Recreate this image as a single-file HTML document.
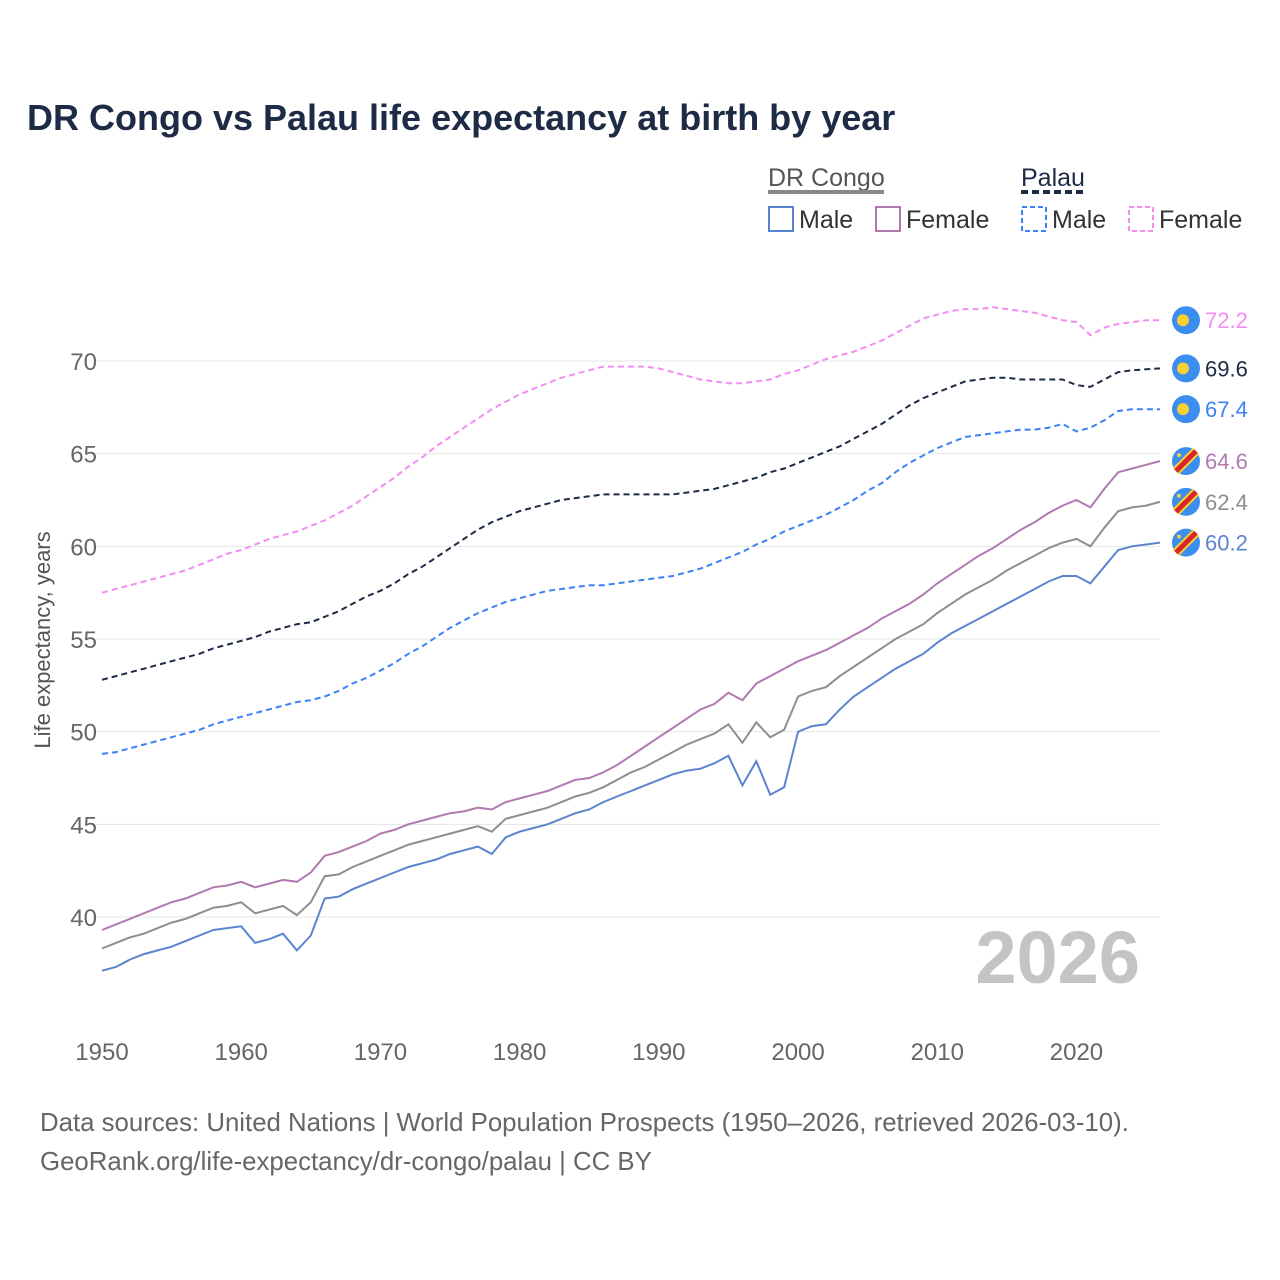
<!DOCTYPE html>
<html><head><meta charset="utf-8">
<style>
body{margin:0;background:#fff;font-family:"Liberation Sans",sans-serif;}
#wrap{position:relative;width:1280px;height:1280px;overflow:hidden;}
</style></head>
<body>
<div id="wrap">
<svg id="chart" width="1280" height="1280" xmlns="http://www.w3.org/2000/svg">
<text x="27" y="130" font-size="36" font-weight="bold" fill="#1e2b45">DR Congo vs Palau life expectancy at birth by year</text>
<g font-size="25" fill="#333">
<text x="768" y="186" fill="#555">DR Congo</text>
<line x1="768" y1="192" x2="884" y2="192" stroke="#888" stroke-width="4"/>
<text x="1021" y="186" fill="#1e2b45">Palau</text>
<line x1="1021" y1="192" x2="1084" y2="192" stroke="#1e2b45" stroke-width="4" stroke-dasharray="7,4"/>
<g><rect x="769" y="207" width="24" height="24" fill="none" stroke="#5b84d0" stroke-width="2"/><text x="799" y="228">Male</text></g>
<g><rect x="876" y="207" width="24" height="24" fill="none" stroke="#b07ab0" stroke-width="2"/><text x="906" y="228">Female</text></g>
<g><rect x="1022" y="207" width="24" height="24" fill="none" stroke="#3b82f6" stroke-width="2" stroke-dasharray="5,3"/><text x="1052" y="228">Male</text></g>
<g><rect x="1129" y="207" width="24" height="24" fill="none" stroke="#f38cf3" stroke-width="2" stroke-dasharray="5,3"/><text x="1159" y="228">Female</text></g>
</g>
<g id="grid"></g>
<text x="1140" y="983" font-size="74" font-weight="bold" fill="#c4c4c6" text-anchor="end">2026</text>
<g id="series"></g>
<g id="endlabels"></g>
<text transform="translate(50,640) rotate(-90)" font-size="22" fill="#555" text-anchor="middle">Life expectancy, years</text>
<text x="40" y="1131" font-size="25.8" fill="#666">Data sources: United Nations | World Population Prospects (1950–2026, retrieved 2026-03-10).</text>
<text x="40" y="1170" font-size="25.8" fill="#666">GeoRank.org/life-expectancy/dr-congo/palau | CC BY</text>
</svg>
</div>
<script>
const startYear = 1950;
const yTicks = [40,45,50,55,60,65,70];
const xTicks = [1950,1960,1970,1980,1990,2000,2010,2020];
const drcMale = [37.1,37.3,37.7,38.0,38.2,38.4,38.7,39.0,39.3,39.4,
39.5,38.6,38.8,39.1,38.2,39.0,41.0,41.1,41.5,41.8,
42.1,42.4,42.7,42.9,43.1,43.4,43.6,43.8,43.4,44.3,
44.6,44.8,45.0,45.3,45.6,45.8,46.2,46.5,46.8,47.1,
47.4,47.7,47.9,48.0,48.3,48.7,47.1,48.4,46.6,47.0,
50.0,50.3,50.4,51.2,51.9,52.4,52.9,53.4,53.8,54.2,
54.8,55.3,55.7,56.1,56.5,56.9,57.3,57.7,58.1,58.4,
58.4,58.0,58.9,59.8,60.0,60.1,60.2];
const drcTotal = [38.3,38.6,38.9,39.1,39.4,39.7,39.9,40.2,40.5,40.6,
40.8,40.2,40.4,40.6,40.1,40.8,42.2,42.3,42.7,43.0,
43.3,43.6,43.9,44.1,44.3,44.5,44.7,44.9,44.6,45.3,
45.5,45.7,45.9,46.2,46.5,46.7,47.0,47.4,47.8,48.1,
48.5,48.9,49.3,49.6,49.9,50.4,49.4,50.5,49.7,50.1,
51.9,52.2,52.4,53.0,53.5,54.0,54.5,55.0,55.4,55.8,
56.4,56.9,57.4,57.8,58.2,58.7,59.1,59.5,59.9,60.2,
60.4,60.0,61.0,61.9,62.1,62.2,62.4];
const drcFemale = [39.3,39.6,39.9,40.2,40.5,40.8,41.0,41.3,41.6,41.7,
41.9,41.6,41.8,42.0,41.9,42.4,43.3,43.5,43.8,44.1,
44.5,44.7,45.0,45.2,45.4,45.6,45.7,45.9,45.8,46.2,
46.4,46.6,46.8,47.1,47.4,47.5,47.8,48.2,48.7,49.2,
49.7,50.2,50.7,51.2,51.5,52.1,51.7,52.6,53.0,53.4,
53.8,54.1,54.4,54.8,55.2,55.6,56.1,56.5,56.9,57.4,
58.0,58.5,59.0,59.5,59.9,60.4,60.9,61.3,61.8,62.2,
62.5,62.1,63.1,64.0,64.2,64.4,64.6];
const palauTotal = [52.8,53.0,53.2,53.4,53.6,53.8,54.0,54.2,54.5,54.7,
54.9,55.1,55.4,55.6,55.8,55.9,56.2,56.5,56.9,57.3,
57.6,58.0,58.5,58.9,59.4,59.9,60.4,60.9,61.3,61.6,
61.9,62.1,62.3,62.5,62.6,62.7,62.8,62.8,62.8,62.8,
62.8,62.8,62.9,63.0,63.1,63.3,63.5,63.7,64.0,64.2,
64.5,64.8,65.1,65.4,65.8,66.2,66.6,67.1,67.6,68.0,
68.3,68.6,68.9,69.0,69.1,69.1,69.0,69.0,69.0,69.0,
68.7,68.6,69.0,69.4,69.5,69.55,69.6];
const palauMale = [48.8,48.9,49.1,49.3,49.5,49.7,49.9,50.1,50.4,50.6,
50.8,51.0,51.2,51.4,51.6,51.7,51.9,52.2,52.6,52.9,
53.3,53.7,54.2,54.6,55.1,55.6,56.0,56.4,56.7,57.0,
57.2,57.4,57.6,57.7,57.8,57.9,57.9,58.0,58.1,58.2,
58.3,58.4,58.6,58.8,59.1,59.4,59.7,60.1,60.4,60.8,
61.1,61.4,61.7,62.1,62.5,63.0,63.4,64.0,64.5,64.9,
65.3,65.6,65.9,66.0,66.1,66.2,66.3,66.3,66.4,66.6,
66.2,66.4,66.8,67.3,67.4,67.4,67.4];
const palauFemale = [57.5,57.7,57.9,58.1,58.3,58.5,58.7,59.0,59.3,59.6,
59.8,60.1,60.4,60.6,60.8,61.1,61.4,61.8,62.2,62.7,
63.2,63.7,64.3,64.8,65.4,65.9,66.4,66.9,67.4,67.8,
68.2,68.5,68.8,69.1,69.3,69.5,69.7,69.7,69.7,69.7,
69.6,69.4,69.2,69.0,68.9,68.8,68.8,68.9,69.0,69.3,
69.5,69.8,70.1,70.3,70.5,70.8,71.1,71.5,71.9,72.3,
72.5,72.7,72.8,72.8,72.9,72.8,72.7,72.6,72.4,72.2,
72.1,71.4,71.8,72.0,72.1,72.2,72.2];

const NS="http://www.w3.org/2000/svg";
const x = yr => 102 + (yr-1950)*(1160-102)/76;
const y = v => 917 - (v-40)*(917-361)/30;
const grid=document.getElementById('grid'), ser=document.getElementById('series'), lab=document.getElementById('endlabels');
function mk(tag,attrs,parent){const e=document.createElementNS(NS,tag);for(const k in attrs)e.setAttribute(k,attrs[k]);parent.appendChild(e);return e;}
yTicks.forEach(t=>{
  const l=mk('line',{x1:95,x2:1160,y1:y(t),y2:y(t),stroke:'#e6e6e6','stroke-width':1},grid);
  
  
  const tx=mk('text',{x:97,y:y(t)+9,'font-size':24,fill:'#666','text-anchor':'end'},grid);
  tx.textContent=t;
  
  
});
xTicks.forEach(t=>{
  const tx=mk('text',{x:x(t),y:1060,'font-size':24,fill:'#666','text-anchor':'middle'},grid);
  tx.textContent=t;
  
  
});
const seriesDefs=[
 {d:palauFemale,c:'#f38cf3',dash:'6,4',n:'palau-female',flag:'pw',lc:'#f38cf3'},
 {d:palauTotal,c:'#1e2b45',dash:'6,4',n:'palau-total',flag:'pw',lc:'#1e2b45'},
 {d:palauMale,c:'#3b82f6',dash:'6,4',n:'palau-male',flag:'pw',lc:'#3b82f6'},
 {d:drcFemale,c:'#b07ab0',dash:'',n:'drc-female',flag:'cd',lc:'#b07ab0'},
 {d:drcTotal,c:'#8e8e8e',dash:'',n:'drc-total',flag:'cd',lc:'#8e8e8e'},
 {d:drcMale,c:'#5b84d0',dash:'',n:'drc-male',flag:'cd',lc:'#5b84d0'}
];
seriesDefs.forEach(s=>{
  const pts=s.d.map((v,i)=>x(startYear+i).toFixed(1)+','+y(v).toFixed(1)).join(' ');
  const p=mk('polyline',{points:pts,fill:'none',stroke:s.c,'stroke-width':2,'stroke-dasharray':s.dash},ser);
  
  
  const last=s.d[s.d.length-1], ly=y(last);
  const g=mk('g',{},lab);
  
  
  mk('circle',{cx:1186,cy:ly,r:14,fill:'#3b8ef0'},g);
  if(s.flag==='pw'){mk('circle',{cx:1183,cy:ly,r:6,fill:'#f7d031'},g);}
  else{
    mk('line',{x1:1176,y1:ly+10,x2:1196,y2:ly-10,stroke:'#f7d031','stroke-width':9},g);
    mk('line',{x1:1176,y1:ly+10,x2:1196,y2:ly-10,stroke:'#d9262c','stroke-width':5},g);
    mk('circle',{cx:1179,cy:ly-6,r:2,fill:'#f7d031'},g);
  }
  const t=mk('text',{x:1205,y:ly+8,'font-size':22,fill:s.lc},g);
  t.textContent=last.toFixed(1);
});
</script>
</body></html>
